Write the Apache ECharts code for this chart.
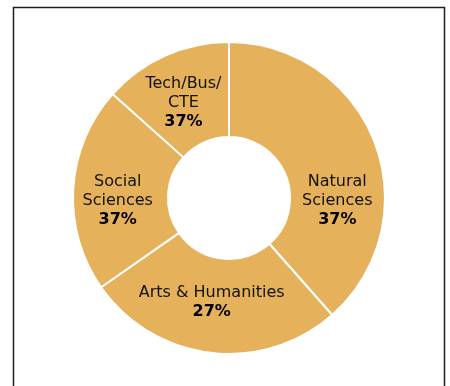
<!DOCTYPE html>
<html>
<head>
<meta charset="utf-8">
<title>Share by field</title>
<script src="https://cdn.jsdelivr.net/npm/echarts@6/dist/echarts.min.js"></script>
<style>
  html, body { margin: 0; padding: 0; background: #fff; }
  #chart { width: 450px; height: 386px; }
</style>
</head>
<body>
<div id="chart"></div>
<script>
// Fields, clockwise from 12 o'clock
const fields = ['Natural\nSciences', 'Arts & Humanities', 'Social\nSciences', 'Tech/Bus/\nCTE'];
// Slice sizes (share of the ring)
const sliceShares = [38.5, 26.8, 21.3, 13.4];
// Percentages printed under each field name
const fieldPercents = ['37%', '27%', '37%', '37%'];

// Small nudges so each label sits in the open part of its slice
const labelNudges = [[4, 42], [-4, -6], [0, 9], [0, 7]];

const chart = echarts.init(document.getElementById('chart'), null, { renderer: 'canvas' });

const pieData = fields.map((name, i) => ({
  name: name,
  value: sliceShares[i],
  label: {
    offset: labelNudges[i],
    formatter: () => name.split('\n').map(l => '{n|' + l + '}').join('\n') + '\n{p|' + fieldPercents[i] + '}'
  }
}));

chart.setOption({
  animation: false,
  backgroundColor: '#ffffff',
  graphic: [{
    type: 'rect',
    shape: { x: 13.5, y: 7.5, width: 431, height: 420 },
    style: { fill: 'none', stroke: '#1e1e1e', lineWidth: 1.5 },
    silent: true
  }],
  series: [{
    type: 'pie',
    center: [229, 198],
    radius: [61, 156],
    startAngle: 90,
    clockwise: true,
    avoidLabelOverlap: false,
    itemStyle: { color: '#E6B15B', borderColor: '#ffffff', borderWidth: 2 },
    emphasis: { disabled: true },
    labelLine: { show: false },
    label: {
      show: true,
      position: 'inside',
      align: 'center',
      rich: {
        n: { fontFamily: 'DejaVu Sans', fontSize: 16, lineHeight: 19, color: '#111111', align: 'center' },
        p: { fontFamily: 'DejaVu Sans', fontSize: 16, lineHeight: 19, fontWeight: 'bold', color: '#000000', align: 'center' }
      }
    },
    data: pieData
  }]
});
</script>
</body>
</html>
